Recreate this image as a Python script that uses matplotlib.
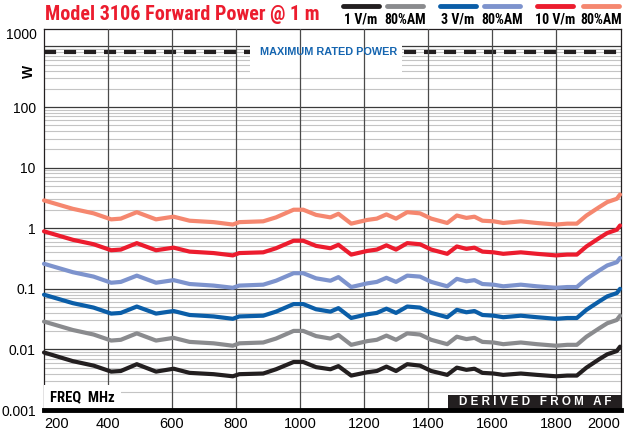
import matplotlib
matplotlib.use('Agg')
import matplotlib.pyplot as plt
from matplotlib import font_manager
from matplotlib.patches import Rectangle
from matplotlib.lines import Line2D

names = {f.name for f in font_manager.fontManager.ttflist}
narrow = None
for cand in ['Roboto Condensed', 'Archivo Narrow', 'PT Sans Narrow', 'Liberation Sans Narrow']:
    if cand in names:
        narrow = dict(family=cand)
        break
if narrow is None:
    narrow = dict(family='DejaVu Sans', fontstretch='condensed')
plt.rcParams['font.family'] = ['Liberation Sans', 'DejaVu Sans']

# data (W)
freq_mhz = [200, 290, 355, 410, 440, 490, 550, 605, 655, 730, 790, 810, 885, 925, 980, 1010,
            1050, 1095, 1120, 1160, 1210, 1240, 1270, 1300, 1335, 1375, 1410, 1460, 1490, 1520,
            1545, 1570, 1605, 1635, 1690, 1740, 1800, 1835, 1865, 1895, 1935, 1960, 1990, 2000]
p_1vm = [0.0089, 0.0064, 0.0054, 0.0043, 0.0044, 0.0057, 0.0043, 0.0048, 0.0041, 0.0039, 0.0036,
         0.0039, 0.0040, 0.0047, 0.0062, 0.0062, 0.0051, 0.0047, 0.0053, 0.0037, 0.0042, 0.0044,
         0.0052, 0.0044, 0.0057, 0.0054, 0.0044, 0.0038, 0.0050, 0.0046, 0.0048, 0.0041, 0.0040,
         0.0038, 0.0040, 0.0038, 0.0036, 0.0037, 0.0037, 0.0050, 0.0069, 0.0083, 0.0094, 0.0111]
p_1vm_am = [0.0288, 0.0209, 0.0176, 0.0140, 0.0144, 0.0184, 0.0140, 0.0155, 0.0133, 0.0126, 0.0115,
            0.0126, 0.0130, 0.0151, 0.0202, 0.0202, 0.0166, 0.0151, 0.0173, 0.0119, 0.0137, 0.0144,
            0.0169, 0.0144, 0.0184, 0.0176, 0.0144, 0.0122, 0.0162, 0.0148, 0.0155, 0.0133, 0.0130,
            0.0122, 0.0130, 0.0122, 0.0115, 0.0119, 0.0119, 0.0162, 0.0223, 0.0270, 0.0306, 0.0360]
p_3vm = [0.080, 0.058, 0.049, 0.039, 0.040, 0.051, 0.039, 0.043, 0.037, 0.035, 0.032,
         0.035, 0.036, 0.042, 0.056, 0.056, 0.046, 0.042, 0.048, 0.033, 0.038, 0.040,
         0.047, 0.040, 0.051, 0.049, 0.040, 0.034, 0.045, 0.041, 0.043, 0.037, 0.036,
         0.034, 0.036, 0.034, 0.032, 0.033, 0.033, 0.045, 0.062, 0.075, 0.085, 0.100]
p_3vm_am = [0.259, 0.188, 0.159, 0.126, 0.130, 0.165, 0.126, 0.139, 0.120, 0.113, 0.104,
            0.113, 0.117, 0.136, 0.181, 0.181, 0.149, 0.136, 0.156, 0.107, 0.123, 0.130,
            0.152, 0.130, 0.165, 0.159, 0.130, 0.110, 0.146, 0.133, 0.139, 0.120, 0.117,
            0.110, 0.117, 0.110, 0.104, 0.107, 0.107, 0.146, 0.201, 0.243, 0.275, 0.324]
p_10vm = [0.889, 0.644, 0.544, 0.433, 0.444, 0.567, 0.433, 0.478, 0.411, 0.389, 0.356,
          0.389, 0.400, 0.467, 0.622, 0.622, 0.511, 0.467, 0.533, 0.367, 0.422, 0.444,
          0.522, 0.444, 0.567, 0.544, 0.444, 0.378, 0.500, 0.456, 0.478, 0.411, 0.400,
          0.378, 0.400, 0.378, 0.356, 0.367, 0.367, 0.500, 0.689, 0.833, 0.944, 1.11]
p_10vm_am = [2.88, 2.09, 1.76, 1.40, 1.44, 1.84, 1.40, 1.55, 1.33, 1.26, 1.15,
             1.26, 1.30, 1.51, 2.02, 2.02, 1.66, 1.51, 1.73, 1.19, 1.37, 1.44,
             1.69, 1.44, 1.84, 1.76, 1.44, 1.22, 1.62, 1.48, 1.55, 1.33, 1.30,
             1.22, 1.30, 1.22, 1.15, 1.19, 1.19, 1.62, 2.23, 2.70, 3.06, 3.60]
series_labels = ['1 V/m', '80%AM', '3 V/m', '80%AM', '10 V/m', '80%AM']
series_colors = ['#231f20', '#8a8b8e', '#0b5ea8', '#7d93cd', '#ec1c2e', '#f5876f']
max_rated_w = 800
x_ticks = [200, 400, 600, 800, 1000, 1200, 1400, 1600, 1800, 2000]
y_ticks = [0.001, 0.01, 0.1, 1, 10, 100]
y_tick_labels = ['0.001', '0.01', '0.1', '1', '10', '100']

fig = plt.figure(figsize=(6.32, 4.33), dpi=100)
ax = fig.add_axes([44/632, 1-410/433, 577/632, 381/433])
ax.set_yscale('log')
ax.set_xlim(200, 2003)
ax.set_ylim(0.001, 1940)

# grid drawn by hand so the label boxes can sit between the layers
for e in range(-3, 3):
    for m in range(2, 10):
        ax.axhline(m * 10.0**e, color='#c4c4c4', lw=0.8, zorder=1)
for e in range(-2, 4):
    ax.axhline(10.0**e, color='#3a3a3a', lw=0.9, zorder=1.1)
for x in x_ticks[1:-1]:
    ax.axvline(x, color='#4a4a4a', lw=0.9, zorder=3)

# max rated power
ax.axhline(max_rated_w, color='#231f20', lw=3, ls=(0, (2.9, 1.9)), zorder=1.5)
ax.add_patch(Rectangle((0.357, 0.879), 0.263, 0.092, transform=ax.transAxes,
                       facecolor='white', edgecolor='none', zorder=2))
ax.text(0.494, max_rated_w, 'MAXIMUM RATED POWER', transform=ax.get_yaxis_transform(),
        ha='center', va='center', color='#1565b0', fontsize=7.8, fontweight='bold', zorder=6)

series = [p_1vm, p_1vm_am, p_3vm, p_3vm_am, p_10vm, p_10vm_am]
for vals, c in zip(series, series_colors):
    ax.plot(freq_mhz, vals, color=c, lw=3, solid_joinstyle='round', solid_capstyle='round',
            zorder=4, clip_on=False)

# freq label box and derived box
ax.add_patch(Rectangle((0, 0), 0.133, 0.066, transform=ax.transAxes,
                       facecolor='white', edgecolor='none', zorder=5))
ax.text(0.0104, 0.034, 'FREQ  MHz', transform=ax.transAxes, ha='left', va='center',
        fontsize=10.5, fontweight='bold', zorder=6, **narrow)
ax.add_patch(Rectangle((0.70, 0), 0.30, 0.04, transform=ax.transAxes,
                       facecolor='#231f20', edgecolor='none', zorder=5))
ax.text(0.852, 0.021, 'D E R I V E D   F R O M   A F', transform=ax.transAxes,
        ha='center', va='center', fontsize=8.4, fontweight='bold', color='white', zorder=6)

ax.set_xticks(x_ticks)
ax.set_xticklabels([str(x) for x in x_ticks], fontsize=10.5)
ax.set_yticks(y_ticks)
ax.set_yticklabels(y_tick_labels, fontsize=10)
ax.minorticks_off()
ax.tick_params(length=0)
ax.tick_params(axis='x', pad=5)
ax.tick_params(axis='y', pad=6)
xl = ax.get_xticklabels()
xl[0].set_ha('left')
xl[-1].set_ha('right')
ax.text(-0.0125, 0.984, '1000', transform=ax.transAxes, ha='right', va='center', fontsize=10)

for s in ['left', 'top', 'right']:
    ax.spines[s].set_linewidth(0.9)
    ax.spines[s].set_color('#231f20')
ax.spines['bottom'].set_linewidth(3.5)
ax.spines['bottom'].set_capstyle('projecting')
ax.spines['bottom'].set_zorder(7)

fig.text(29/632, 1-71/433, 'W', rotation=90, ha='center', va='center',
         fontsize=10, fontweight='bold')

# title and legend
fig.text(45/632, 1-15/433, 'Model 3106 Forward Power @ 1 m', color='#ec1c2e',
         fontsize=14.5, fontweight='bold', va='center', **narrow)
leg_x = [361, 405, 458, 502, 555, 601]
for cx, lab, c in zip(leg_x, series_labels, series_colors):
    fig.add_artist(Line2D([(cx-18)/632, (cx+18)/632], [1-6/433, 1-6/433], color=c, lw=3.5,
                          solid_capstyle='round'))
    fig.text(cx/632, 1-20/433, lab, ha='center', va='center', fontsize=10,
             fontweight='bold', **narrow)

fig.savefig('out.png', dpi=100)
